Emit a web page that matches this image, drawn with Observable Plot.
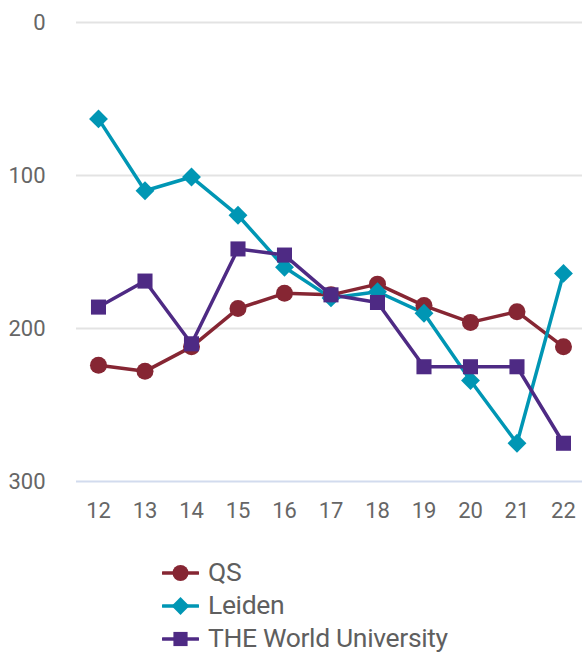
<!DOCTYPE html>
<html>
<head>
<meta charset="utf-8">
<script src="https://cdn.jsdelivr.net/npm/d3@7"></script>
<script src="https://cdn.jsdelivr.net/npm/@observablehq/plot@0.6"></script>
<style>
  body { margin: 0; background: #fff; overflow: hidden; }
  #legend { margin-top: 21px; padding-left: 162px; font-family: Roboto, sans-serif; font-size: 26.5px; letter-spacing: -0.35px; color: #5f5f5f; }
  .row { display: flex; align-items: center; height: 33px; }
  .row span { line-height: 1; }
  .row svg { margin-right: 9px; }
</style>
</head>
<body>
<div id="chart"></div>
<div id="legend"></div>
<script>
const years = [12, 13, 14, 15, 16, 17, 18, 19, 20, 21, 22];
const qs = [224, 228, 212, 187, 177, 178, 171, 185, 196, 189, 212];
const leiden = [63, 110, 101, 126, 160, 180, 176, 190, 234, 275, 164];
const theWorld = [186, 169, 210, 148, 152, 178, 183, 225, 225, 225, 275];
const seriesNames = ["QS", "Leiden", "THE World University"];
const seriesColors = ["#862633", "#0096b4", "#4e2a84"];
const seriesSymbols = ["circle", "diamond2", "square"];
const yTicks = [0, 100, 200, 300];

const seriesValues = [qs, leiden, theWorld];
const data = seriesNames.flatMap((name, i) =>
  years.map((yr, j) => ({ series: name, year: yr, rank: seriesValues[i][j] }))
);

const chart = Plot.plot({
  width: 582,
  height: 535,
  marginLeft: 76,
  marginRight: 0,
  marginTop: 22,
  marginBottom: 54,
  style: { fontFamily: "Roboto, sans-serif", fontSize: "22px", color: "#666", background: "#fff" },
  x: { domain: [11.527, 22.409], ticks: years, tickFormat: d => String(d), tickSize: 0, tickPadding: 21, label: null },
  y: { domain: [0, 300], reverse: true, ticks: yTicks, tickSize: 0, tickPadding: 31, label: null },
  color: { domain: seriesNames, range: seriesColors },
  symbol: { domain: seriesNames, range: seriesSymbols },
  marks: [
    Plot.ruleY(yTicks.filter(d => d < 300), { stroke: "#e3e3e3", strokeWidth: 2 }),
    Plot.ruleY([300], { stroke: "#d2dbee", strokeWidth: 2 }),
    Plot.line(data, { x: "year", y: "rank", z: "series", stroke: "series", strokeWidth: 3.5 }),
    Plot.dot(data, { x: "year", y: "rank", fill: "series", symbol: "series", r: 8.5, stroke: "none" })
  ]
});
document.getElementById("chart").appendChild(chart);

const legend = document.getElementById("legend");
const symGen = { circle: d3.symbolCircle, diamond2: d3.symbolDiamond2, square: d3.symbolSquare };
seriesNames.forEach((name, i) => {
  const row = document.createElement("div");
  row.className = "row";
  const svg = d3.create("svg").attr("width", 37).attr("height", 24);
  svg.append("line").attr("x1", 1).attr("x2", 36).attr("y1", 12).attr("y2", 12)
    .attr("stroke", seriesColors[i]).attr("stroke-width", 3.5).attr("stroke-linecap", "round");
  svg.append("path").attr("transform", "translate(18.5,12)")
    .attr("d", d3.symbol(symGen[seriesSymbols[i]], Math.PI * 8 * 8)())
    .attr("fill", seriesColors[i]);
  row.appendChild(svg.node());
  const span = document.createElement("span");
  span.textContent = name;
  row.appendChild(span);
  legend.appendChild(row);
});
</script>
</body>
</html>
